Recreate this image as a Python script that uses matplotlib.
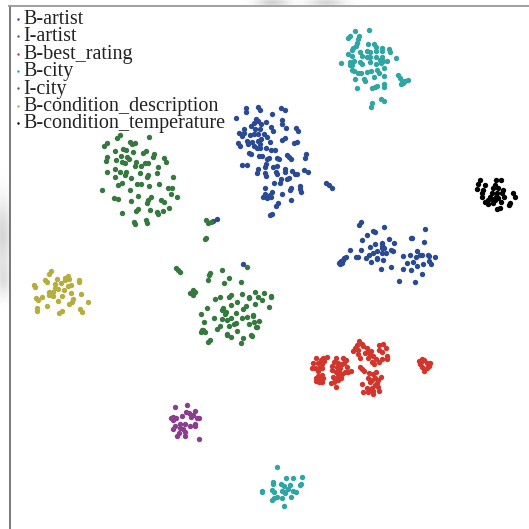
"""t-SNE style scatter of slot label embeddings."""
import matplotlib
matplotlib.use("Agg")
import matplotlib.pyplot as plt
import numpy as np

LABELS = [
    "B-artist",
    "I-artist",
    "B-best_rating",
    "B-city",
    "I-city",
    "B-condition_description",
    "B-condition_temperature",
]
COLORS = ["#2b4a94", "#35793f", "#d1352b", "#2fa6a4", "#8b3d8e", "#b5ad3c", "#000000"]

artist_main = [
    (62,38),(62,50),(100,37),(104,44),(168,38),(180,45),(141,58),(34,69),(92,71),(100,78),(124,80),(170,76),(172,87),
    (86,85),(107,88),(78,94),(90,103),(104,102),(138,96),(145,108),(184,100),(212,100),(218,107),(56,103),(42,113),
    (58,113),(52,124),(76,120),(88,118),(98,116),(118,118),(125,125),(40,143),(44,152),(65,138),(70,148),(82,140),
    (98,138),(108,133),(104,146),(88,152),(95,158),(105,160),(123,160),(136,140),(180,128),(172,134),(215,140),(208,145),
    (138,166),(150,166),(72,174),(78,178),(102,182),(112,184),(132,188),(126,193),(155,188),(162,192),(186,181),(192,186),
    (198,192),(242,178),(239,188),(52,209),(66,209),(124,208),(120,217),(100,222),(96,235),(145,215),(155,212),(152,232),
    (156,236),(120,235),(122,243),(180,223),(180,232),(202,227),(210,238),(216,236),(238,225),(248,232),(185,252),(192,250),
    (168,252),(164,265),(147,264),(303,264),(312,271),(322,278),(197,280),(195,285),(119,279),(225,274),(226,282),(228,291),
    (142,291),(172,296),(135,299),(120,298),(115,305),(125,310),(138,305),(198,315),(158,324),(152,333),(136,360),(142,356),
]
artist_right = [
    (92,22),(87,29),(130,48),(135,52),(163,36),(110,61),(96,76),(284,42),(242,70),(247,70),(176,71),(192,84),(283,81),
    (155,83),(155,90),(135,88),(119,95),(60,104),(94,106),(155,99),(162,99),(184,104),(188,108),(142,108),(128,113),
    (155,113),(167,115),(116,120),(108,128),(78,125),(84,127),(140,128),(140,133),(159,135),(122,141),(262,108),(220,124),
    (240,121),(258,125),(270,121),(275,121),(295,120),(297,124),(315,126),(298,137),(304,146),(230,145),(248,142),(280,148),
    (262,153),(218,163),(242,164),(153,162),(184,156),(276,176),(206,198),(254,202),(47,127),(42,130),(38,134),(34,137),
    (30,141),(26,143),(36,143),(30,147),
]
artist_stray = [(650,657),(640,662),(730,792)]
i_artist_upper = [
    (360,405),(352,415),(448,411),(320,428),(312,437),(390,425),(395,432),(405,430),(346,452),(370,447),(378,450),(400,455),
    (437,453),(430,460),(462,462),(458,472),(320,472),(318,482),(362,467),(382,470),(348,480),(388,478),(375,490),(365,487),
    (408,485),(405,497),(422,497),(445,490),(435,490),(492,473),(498,486),(320,515),(345,508),(360,516),(378,517),(376,525),
    (475,500),(472,518),(420,520),(445,525),(440,532),(518,530),(345,530),(392,533),(365,548),(355,555),(410,551),(422,552),
    (447,558),(478,553),(505,564),(515,565),(306,569),(390,570),(512,583),(530,592),(342,593),(354,596),(414,588),(452,592),
    (445,600),(440,610),(392,604),(484,600),(492,606),(366,639),(408,634),(415,628),(450,631),(472,635),(488,633),(475,642),
    (508,625),(403,665),(406,673),(437,660),(442,668),(617,660),(625,668),(632,665),(617,715),(614,718),
]
i_artist_lower = [
    (17,38),(23,44),(30,51),(120,55),(118,60),(156,46),(114,74),(178,68),(162,84),(212,82),(230,37),(70,104),(75,110),(60,114),
    (68,120),(135,133),(150,127),(178,127),(184,121),(215,118),(236,125),(238,128),(254,112),(263,125),(281,115),(303,122),
    (303,127),(277,135),(202,142),(182,151),(228,152),(254,148),(112,158),(160,158),(156,166),(168,170),(165,178),(94,178),
    (218,163),(297,155),(198,175),(184,188),(172,195),(133,188),(155,192),(232,186),(216,190),(248,181),(250,184),(102,200),
    (198,203),(193,206),(252,200),(268,198),(238,208),(151,214),(142,221),(176,214),(258,215),(262,217),(95,226),(100,226),
    (92,232),(104,232),(202,227),(170,237),(172,240),(182,246),(243,240),(218,248),(120,254),(115,261),(212,264),(246,242),
]
rating = [
    (32,70),(55,68),(65,65),(48,75),(58,78),(25,85),(40,85),(52,88),(30,98),(22,100),(42,100),(52,100),(38,108),(92,68),(115,70),
    (122,74),(88,80),(98,85),(110,88),(82,92),(95,95),(105,98),(118,85),(125,95),(120,110),(138,108),(128,112),(82,105),(92,110),
    (102,108),(98,118),(110,118),(85,125),(95,130),(108,130),(78,143),(88,140),(100,135),(40,122),(50,120),(34,128),(45,130),
    (55,128),(32,138),(42,140),(50,142),(92,157),(162,18),(170,28),(155,30),(150,40),(160,45),(145,48),(175,32),(186,40),(158,58),
    (165,68),(180,55),(190,50),(198,48),(195,60),(190,68),(205,62),(212,72),(200,80),(208,88),(222,82),(232,72),(222,30),(235,28),
    (242,40),(232,52),(222,45),(245,62),(247,72),(165,95),(172,103),(178,108),(192,115),(205,118),(212,112),(228,125),(190,128),
    (200,135),(210,130),(195,142),(220,135),(172,148),(185,160),(175,172),(188,172),(200,160),(210,150),(218,155),(205,168),
    (205,178),(222,168),(215,145),(192,165),(342,78),(350,72),(358,75),(365,85),(372,92),(345,88),(352,95),(358,108),(366,100),
    (348,82),(376,85),
]
city_upper = [
    (270,92),(311,89),(282,108),(255,108),(250,115),(280,118),(275,130),(272,138),(265,145),(262,150),(308,131),(326,133),(332,140),
    (351,143),(350,152),(372,148),(375,155),(284,157),(290,168),(305,153),(315,155),(333,153),(250,163),(260,168),(333,172),(306,172),
    (315,170),(392,175),(350,170),(345,180),(355,183),(365,183),(348,190),(228,188),(255,185),(268,183),(254,196),(262,195),(285,187),
    (292,193),(316,187),(332,192),(356,203),(260,210),(268,213),(280,218),(288,218),(305,216),(318,214),(336,210),(343,218),(356,227),
    (400,225),(271,237),(296,238),(300,243),(328,232),(405,235),(410,242),(420,243),(428,240),(408,252),(415,248),(356,253),(358,260),
    (275,263),(320,264),(330,262),(337,258),(347,298),(358,304),(320,308),(318,320),
]
city_lower = [
    (36,607),(62,640),(84,638),(110,635),(25,650),(25,656),(108,656),(106,660),(48,658),(58,662),(74,660),(20,676),(28,680),(70,672),
    (52,678),(60,685),(85,678),(92,682),(36,695),(28,700),(22,705),(52,700),(78,695),(58,723),(60,680),(-10,678),(-8,682),
]
i_city = [
    (524,425),(560,420),(558,440),(566,443),(586,438),(512,458),(520,455),(528,460),(518,464),(546,453),(572,455),(578,450),(590,458),
    (597,458),(524,483),(520,492),(540,476),(554,478),(570,483),(586,478),(586,482),(540,490),(550,492),(554,500),(538,505),(532,514),
    (554,512),(596,521),
]
description = [
    (152,18),(146,26),(102,60),(104,66),(136,46),(142,52),(172,42),(195,38),(205,33),(208,42),(196,45),(237,44),(237,52),(182,55),
    (165,58),(212,60),(205,62),(165,70),(146,80),(146,90),(160,80),(160,92),(175,72),(192,75),(212,85),(243,86),(185,92),(126,97),
    (108,100),(115,106),(174,109),(220,103),(215,112),(208,118),(264,112),(142,122),(110,128),(110,138),(186,137),(178,145),(240,132),
    (246,140),
]
temperature = [
    (645,540),(692,540),(708,540),(638,553),(660,555),(636,568),(690,555),(655,570),(650,580),(685,565),(700,565),(715,570),(745,580),
    (750,592),(680,578),(695,580),(710,580),(650,590),(718,592),(660,605),(670,600),(680,597),(690,600),(700,595),(708,605),(668,612),
    (685,610),(735,608),(732,615),(695,627),(705,623),(675,590),(692,590),
]
# faint scanner shadow outside the frame: centre x, centre y, spread x, spread y, depth
SMUDGES = [(2, 235, 9, 35, 0.16), (3, 280, 7, 16, 0.10), (272, 2, 16, 4, 0.18), (326, 2, 18, 4, 0.16)]


def crop(points, left, top):
    arr = np.array(points, dtype=float)
    return arr / 3 + [left, top]


groups = [
    np.vstack([crop(artist_main, 225, 95), crop(artist_right, 330, 215), crop(artist_stray, 0, 0)]),
    np.vstack([crop(i_artist_upper, 0, 0), crop(i_artist_lower, 170, 255)]),
    crop(rating, 305, 335),
    np.vstack([crop(city_upper, 265, 0), crop(city_lower, 265, 265)]),
    crop(i_city, 0, 265),
    crop(description, 0, 265),
    crop(temperature, 265, 0),
]

plt.rcParams["font.family"] = ["Liberation Serif", "DejaVu Serif"]

fig = plt.figure(figsize=(5.29, 5.29), dpi=100)

yy, xx = np.mgrid[0:529, 0:529]
shade = np.ones((529, 529))
for cx, cy, sx, sy, depth in SMUDGES:
    shade -= depth * np.exp(-((xx - cx) / sx) ** 2 - ((yy - cy) / sy) ** 2)
fig.figimage(shade, cmap="gray", vmin=0, vmax=1, origin="upper", zorder=-1)

ax = fig.add_axes([9.5 / 529, 0, 1 - 9.5 / 529, 1 - 5.5 / 529], zorder=2)

for pts, label, color in zip(groups, LABELS, COLORS):
    ax.scatter(pts[:, 0], pts[:, 1], s=15, color=color, linewidths=0, label=label)

ax.set_xlim(9.5, 529)
ax.set_ylim(529, 5.5)
ax.set_xticks([])
ax.set_yticks([])
ax.spines["right"].set_visible(False)
ax.spines["bottom"].set_visible(False)
ax.spines["left"].set_color("#555555")
ax.spines["left"].set_linewidth(1.1)
ax.spines["top"].set_color("#999999")
ax.spines["top"].set_linewidth(1.3)

ax.legend(
    loc="upper left",
    bbox_to_anchor=(0, 1.005),
    frameon=False,
    fontsize=14.5,
    markerscale=0.45,
    labelspacing=-0.085,
    handletextpad=0.17,
    handlelength=0.15,
    borderpad=0.1,
    borderaxespad=0.25,
    labelcolor="#222222",
)

fig.savefig("out.png", dpi=100)
